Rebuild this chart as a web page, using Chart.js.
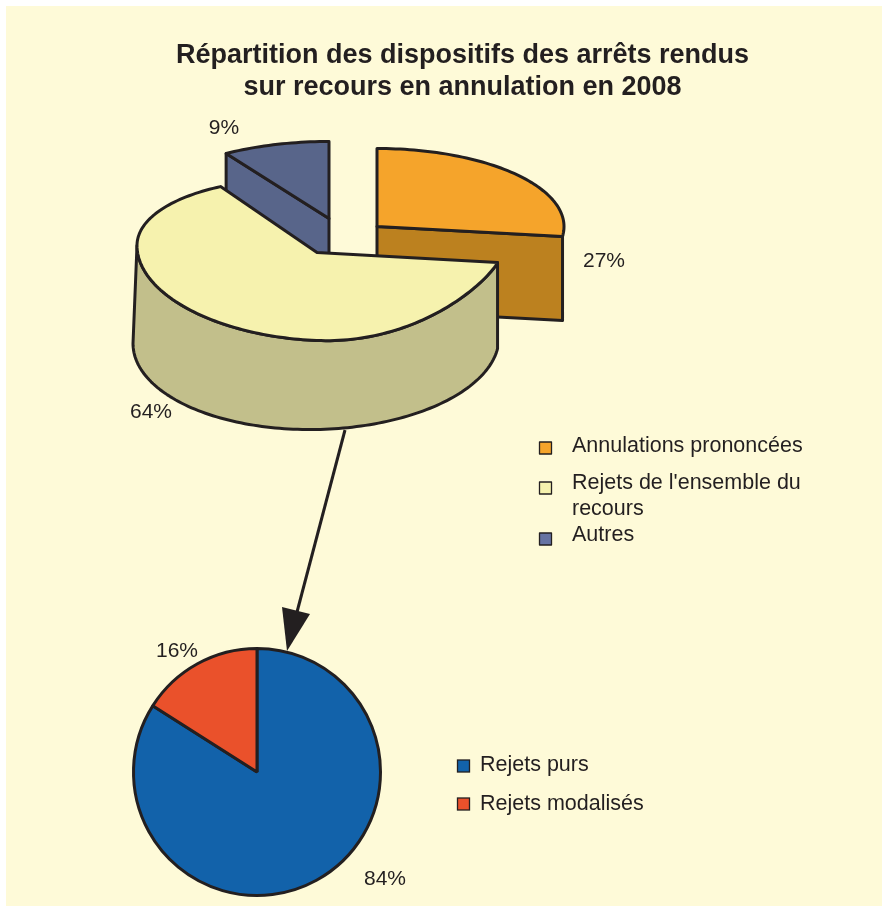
<!DOCTYPE html>
<html lang="fr">
<head>
<meta charset="utf-8">
<title>Répartition des dispositifs</title>
<script src="https://cdn.jsdelivr.net/npm/chart.js@4"></script>
<style>
html,body{margin:0;padding:0;background:#fff;}
#page{position:relative;width:882px;height:906px;overflow:hidden;}
#panel{position:absolute;left:6px;top:6px;right:0;bottom:0;background:#FEFAD8;}
canvas{position:absolute;left:0;top:0;}
</style>
</head>
<body>
<div id="page">
<div id="panel"></div>
<canvas id="bottom" width="882" height="906"></canvas>
<canvas id="top" width="882" height="906"></canvas>
</div>
<script>
const titleLines = ["Répartition des dispositifs des arrêts rendus", "sur recours en annulation en 2008"];
const topCategories = ["Annulations prononcées", "Rejets de l'ensemble du recours", "Autres"];
const topValues = [27, 64, 9];
const topLegendLines = [["Annulations prononcées"], ["Rejets de l'ensemble du", "recours"], ["Autres"]];
const bottomCategories = ["Rejets purs", "Rejets modalisés"];
const bottomValues = [84, 16];

const INK = "#231F20";
const FONT = "'Liberation Sans', Arial, sans-serif";
const topFace = ["#F5A42B", "#F6F2AE", "#58658A"];
const topWall = ["#BC811F", "#C2BF8B", "#58658A"];
const topSwatch = ["#F5A42B", "#F6F2AE", "#6673A3"];
const bottomColors = ["#1262AA", "#EA512B"];

// Exploded, tilted view: offsets are relative to the centre Chart.js computes.
const shapes = [
  {dx: -85.5, dy: -16, rxL: 187, rxR: 187, rf: 78, rn: 80, sL: 0, sR: 0, wall: "end", depth: 84},
  {dx: -145.5, dy: 10, rxL: 180, rxR: 182, rf: 73.6, rn: 88, sL: 7, sR: 7, pn: 1.6, wall: "outer",
   base: {dx: -146.5, dy: 98, rxL: 183, rxR: 183, rf: 89, rn: 89, sL: -3, sR: -3}},
  {dx: -133.5, dy: -24, rxL: 192, rxR: 192, rf: 77, rn: 77, sL: 0, sR: 0, wall: "start", depth: 60}
];
const drawOrder = [0, 2, 1];

function pt(el, s, theta) {
  const sn = Math.sin(theta), cs = Math.cos(theta);
  const near = cs < 0 && sn >= 0 && s.pn ? Math.pow(-cs, s.pn) * s.rn : null;
  const vert = near !== null ? near : -(cs >= 0 ? s.rf : s.rn) * cs;
  return [el.x + s.dx + (sn >= 0 ? s.rxR : s.rxL) * sn,
          el.y + s.dy + (sn < 0 ? s.sL : s.sR) * sn + vert];
}
function arcPoints(el, s, a, b) {
  const n = Math.max(8, Math.ceil(Math.abs(b - a) * 40)), out = [];
  for (let i = 0; i <= n; i++) out.push(pt(el, s, a + (b - a) * i / n));
  return out;
}
function paint(ctx, pts, fill, lw) {
  ctx.beginPath();
  pts.forEach((p, i) => i ? ctx.lineTo(p[0], p[1]) : ctx.moveTo(p[0], p[1]));
  ctx.closePath();
  ctx.fillStyle = fill;
  ctx.fill();
  ctx.lineWidth = lw;
  ctx.strokeStyle = INK;
  ctx.lineJoin = "round";
  ctx.stroke();
}

const tiltedPie = {
  id: "tiltedPie",
  beforeDatasetDraw(chart, args) {
    const ctx = chart.ctx;
    const arcs = chart.getDatasetMeta(args.index).data;
    drawOrder.forEach(i => {
      const el = arcs[i], s = shapes[i];
      const a = el.startAngle + Math.PI / 2, b = el.endAngle + Math.PI / 2;
      const centre = [el.x + s.dx, el.y + s.dy];
      if (s.wall === "outer") {
        const left = Math.PI * 1.5;
        const tp = arcPoints(el, s, a, left);
        const bp = arcPoints(el, s.base, a, left).reverse();
        paint(ctx, tp.concat(bp), topWall[i], 3);
      } else {
        const edge = pt(el, s, s.wall === "end" ? b : a);
        paint(ctx, [centre, edge, [edge[0], edge[1] + s.depth], [centre[0], centre[1] + s.depth]], topWall[i], 3);
      }
      paint(ctx, [centre].concat(arcPoints(el, s, a, b)), topFace[i], 3);
    });
    return false;
  },
  afterDraw(chart) {
    const ctx = chart.ctx;
    ctx.save();
    ctx.font = "21px " + FONT;
    ctx.fillStyle = INK;
    ctx.textAlign = "center";
    ctx.textBaseline = "middle";
    const spots = [[604, 261], [151, 412], [224, 128]];
    topValues.forEach((v, i) => ctx.fillText(v + "%", spots[i][0], spots[i][1]));
    ctx.font = "21.5px " + FONT;
    ctx.textAlign = "left";
    const rows = [446, 483, 509, 535];
    const rowIndex = [[0], [1, 2], [3]];
    const boxes = [442, 482, 533];
    topLegendLines.forEach((lines, i) => {
      ctx.fillStyle = topSwatch[i];
      ctx.fillRect(539.5, boxes[i], 12, 12);
      ctx.strokeStyle = INK;
      ctx.lineWidth = 1.3;
      ctx.strokeRect(539.5, boxes[i], 12, 12);
      ctx.fillStyle = INK;
      lines.forEach((t, j) => ctx.fillText(t, 572, rows[rowIndex[i][j]]));
    });
    ctx.restore();
  }
};

new Chart(document.getElementById("top"), {
  type: "pie",
  data: {labels: topCategories, datasets: [{data: topValues, backgroundColor: topFace}]},
  options: {
    responsive: false,
    animation: false,
    radius: 182,
    layout: {padding: {left: 43, right: 0, top: 0, bottom: 530}},
    plugins: {
      legend: {display: false},
      tooltip: {enabled: false},
      title: {
        display: true,
        text: titleLines,
        color: INK,
        font: {family: FONT, size: 27, weight: "bold", lineHeight: 1.185},
        padding: {top: 40, bottom: 5}
      }
    }
  },
  plugins: [tiltedPie]
});

const bottomExtras = {
  id: "bottomExtras",
  afterDraw(chart) {
    const ctx = chart.ctx;
    ctx.save();
    ctx.strokeStyle = INK;
    ctx.lineWidth = 3;
    ctx.beginPath();
    ctx.moveTo(345, 430);
    ctx.lineTo(297, 612);
    ctx.stroke();
    ctx.fillStyle = INK;
    ctx.beginPath();
    ctx.moveTo(282, 607);
    ctx.lineTo(310, 614);
    ctx.lineTo(287, 651);
    ctx.closePath();
    ctx.fill();
    ctx.font = "21px " + FONT;
    ctx.textAlign = "center";
    ctx.textBaseline = "middle";
    const spots = [[385, 879], [177, 651]];
    bottomValues.forEach((v, i) => ctx.fillText(v + "%", spots[i][0], spots[i][1]));
    ctx.font = "21.5px " + FONT;
    ctx.textAlign = "left";
    const rows = [765, 804], boxes = [760, 798];
    bottomCategories.forEach((t, i) => {
      ctx.fillStyle = bottomColors[i];
      ctx.fillRect(457.5, boxes[i], 12, 12);
      ctx.strokeStyle = INK;
      ctx.lineWidth = 1.3;
      ctx.strokeRect(457.5, boxes[i], 12, 12);
      ctx.fillStyle = INK;
      ctx.fillText(t, 480, rows[i]);
    });
    ctx.restore();
  }
};

new Chart(document.getElementById("bottom"), {
  type: "pie",
  data: {labels: bottomCategories, datasets: [{
    data: bottomValues,
    backgroundColor: bottomColors,
    borderColor: INK,
    borderWidth: 3
  }]},
  options: {
    responsive: false,
    animation: false,
    layout: {padding: {left: 132, right: 500, top: 647, bottom: 9}},
    plugins: {legend: {display: false}, tooltip: {enabled: false}}
  },
  plugins: [bottomExtras]
});
</script>
</body>
</html>
